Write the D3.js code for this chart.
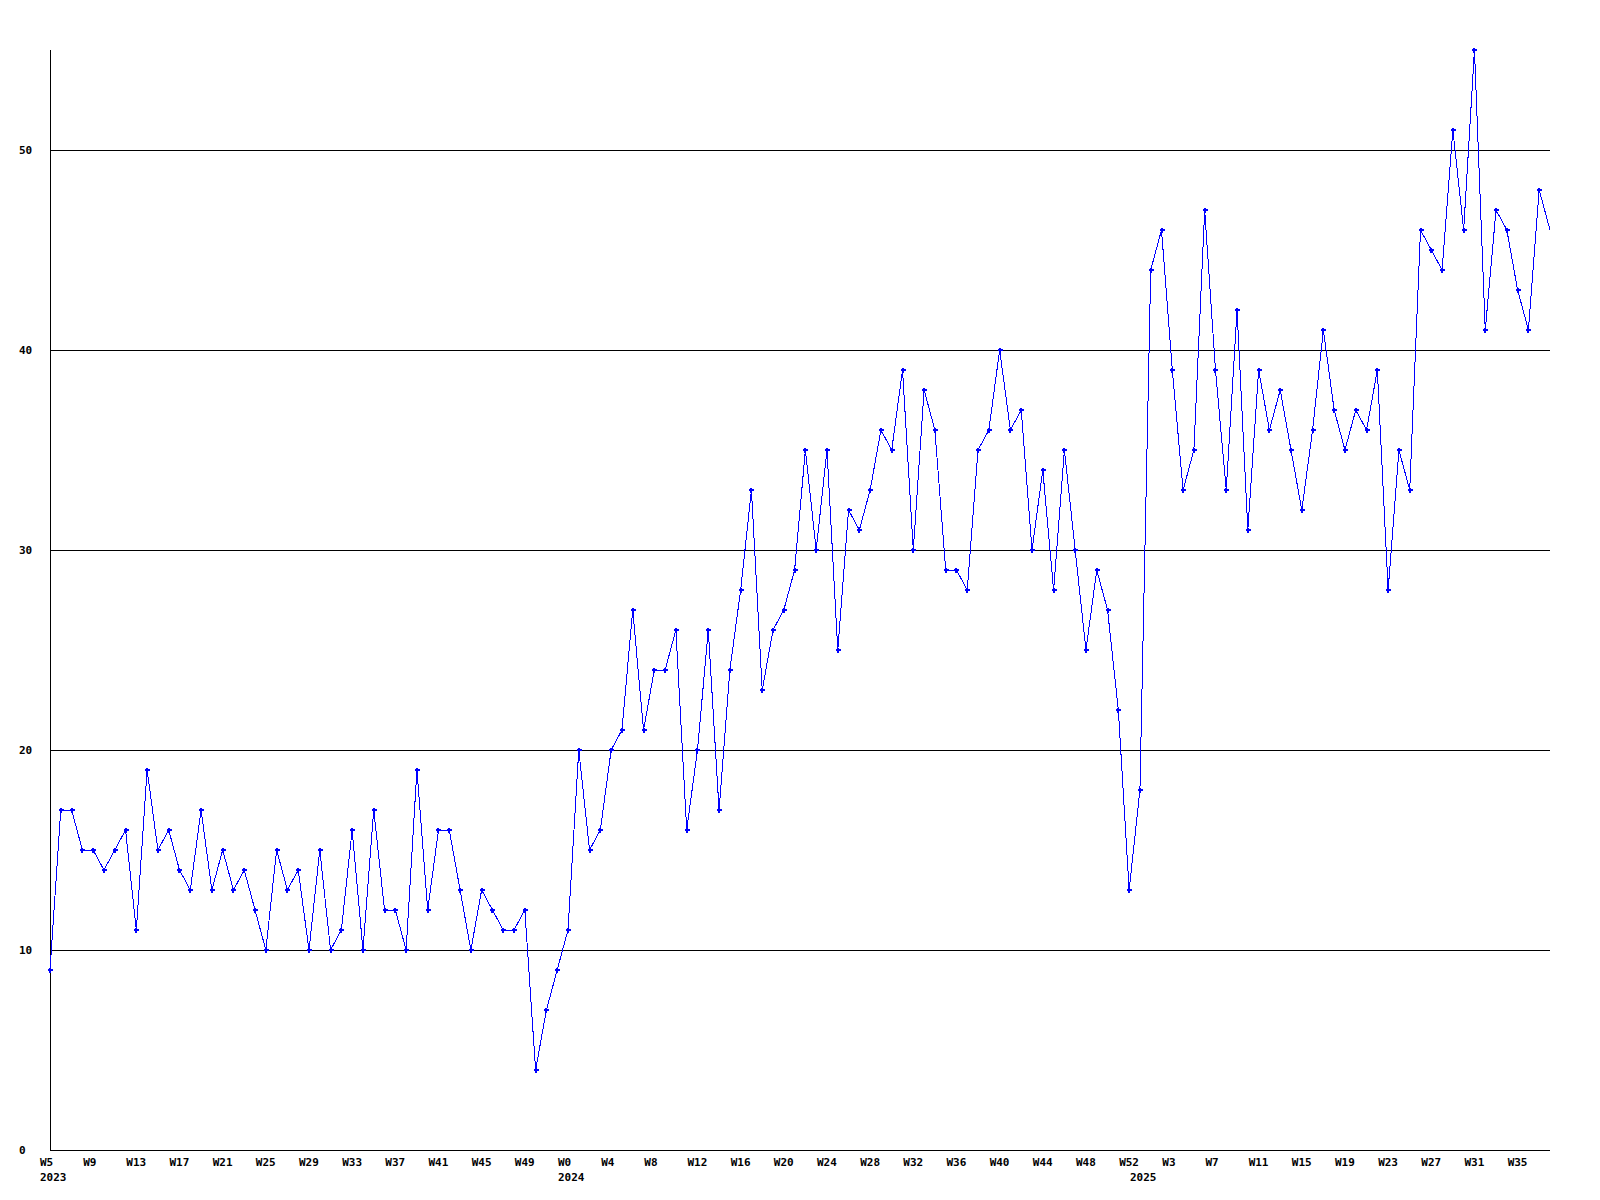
<!DOCTYPE html>
<html>
<head>
<meta charset="utf-8">
<script src="https://cdn.jsdelivr.net/npm/d3@7"></script>
<style>
  html, body { margin: 0; padding: 0; background: #fff; }
  svg { display: block; }
  text { font-family: "DejaVu Sans Mono", "Liberation Mono", monospace; font-weight: bold; font-size: 11px; fill: #000; }
</style>
</head>
<body>
<svg id="chart" width="1600" height="1200"></svg>
<script>
// Weekly values, 2023 W5 .. 2025 W38
const values2023 = [9,17,17,15,15,14,15,16,11,19,15,16,14,13,17,13,15,13,14,12,10,15,13,14,10,15,10,11,16,10,17,12,12,10,19,12,16,16,13,10,13,12,11,11,12,4,7,9];
const values2024 = [11,20,15,16,20,21,27,21,24,24,26,16,20,26,17,24,28,33,23,26,27,29,35,30,35,25,32,31,33,36,35,39,30,38,36,29,29,28,35,36,40,36,37,30,34,28,35,30,25,29,27,22,13];
const values2025 = [18,44,46,39,33,35,47,39,33,42,31,39,36,38,35,32,36,41,37,35,37,36,39,28,35,33,46,45,44,51,46,55,41,47,46,43,41,48,46];

// Tick labels (one every 4 weeks)
const weekTickLabels = ["W5","W9","W13","W17","W21","W25","W29","W33","W37","W41","W45","W49",
  "W0","W4","W8","W12","W16","W20","W24","W28","W32","W36","W40","W44","W48","W52",
  "W3","W7","W11","W15","W19","W23","W27","W31","W35"];
const tickStep = 4;
const yearLabels = ["2023","2024","2025"];
const yTicks = [0,10,20,30,40,50];

(function () {
const values = values2023.concat(values2024, values2025);
const yearStarts = [0, values2023.length, values2023.length + values2024.length];

const svg = d3.select("#chart");
const mLeft = 50, mRight = 1550, mTop = 50, mBottom = 1150;

const x = d3.scaleLinear().domain([0, values.length - 1]).range([mLeft, mRight]);
const y = d3.scaleLinear().domain([0, 55]).range([mBottom, mTop]);

// grid lines
svg.append("g").attr("shape-rendering", "crispEdges").selectAll("line").data(yTicks.filter(d => d > 0)).join("line")
  .attr("x1", mLeft).attr("x2", mRight)
  .attr("y1", d => Math.round(y(d)) + 0.5).attr("y2", d => Math.round(y(d)) + 0.5)
  .attr("stroke", "#000").attr("stroke-width", 1);

// axis lines
svg.append("line").attr("shape-rendering", "crispEdges").attr("x1", mLeft + 0.5).attr("x2", mLeft + 0.5).attr("y1", mTop).attr("y2", mBottom + 0.5)
  .attr("stroke", "#000").attr("stroke-width", 1);
svg.append("line").attr("shape-rendering", "crispEdges").attr("x1", mLeft).attr("x2", mRight).attr("y1", mBottom + 0.5).attr("y2", mBottom + 0.5)
  .attr("stroke", "#000").attr("stroke-width", 1);

// y labels
svg.append("g").selectAll("text").data(yTicks).join("text")
  .attr("x", 19).attr("y", d => y(d) + 4)
  .text(d => d);

// x labels
svg.append("g").selectAll("text").data(weekTickLabels).join("text")
  .attr("x", (d, i) => x(i * tickStep) - 10).attr("y", 1166)
  .text(d => d);

svg.append("g").selectAll("text").data(yearLabels).join("text")
  .attr("x", (d, i) => x(yearStarts[i]) - 10).attr("y", 1181)
  .text(d => d);

// line
const line = d3.line().x((d, i) => x(i)).y(d => y(d));
svg.append("path").datum(values)
  .attr("d", line).attr("fill", "none").attr("stroke", "#0000ff").attr("stroke-width", 1)
  .attr("shape-rendering", "crispEdges");

// markers
const marks = svg.append("g").attr("fill", "#0000ff").attr("shape-rendering", "crispEdges");
const pts = values.slice(0, values.length - 1);
marks.selectAll("rect.h").data(pts).join("rect").attr("class", "h")
  .attr("x", (d, i) => Math.round(x(i)) - 2).attr("y", d => Math.round(y(d)) - 1)
  .attr("width", 5).attr("height", 2);
marks.selectAll("rect.v").data(pts).join("rect").attr("class", "v")
  .attr("x", (d, i) => Math.round(x(i)) - 1).attr("y", d => Math.round(y(d)) - 2)
  .attr("width", 2).attr("height", 5);
})();
</script>
</body>
</html>
